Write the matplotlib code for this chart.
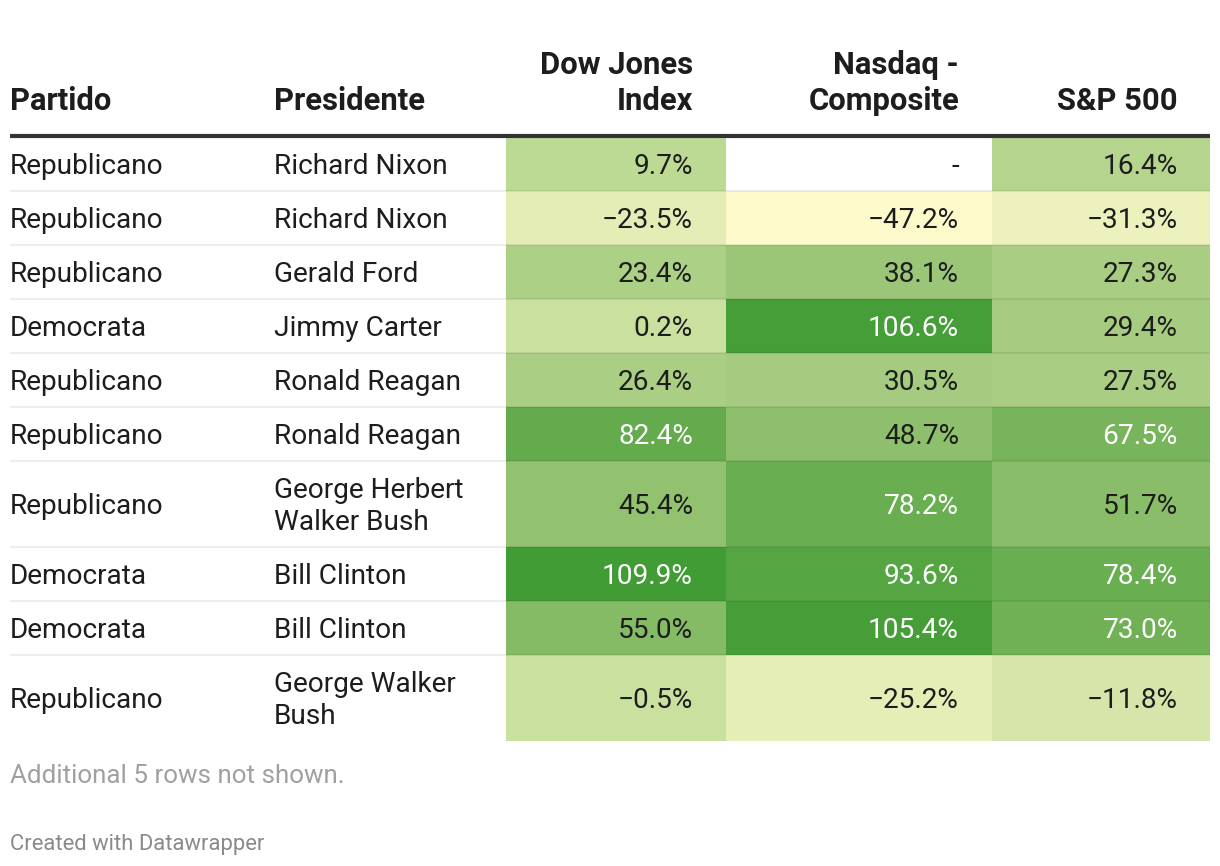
import numpy as np
import matplotlib.pyplot as plt
from matplotlib.colors import LinearSegmentedColormap
from matplotlib.patches import Rectangle

plt.rcParams['font.family'] = ['Roboto', 'DejaVu Sans']

# datos de la tabla
partido = ['Republicano', 'Republicano', 'Republicano', 'Democrata', 'Republicano',
           'Republicano', 'Republicano', 'Democrata', 'Democrata', 'Republicano']
presidente = ['Richard Nixon', 'Richard Nixon', 'Gerald Ford', 'Jimmy Carter', 'Ronald Reagan',
              'Ronald Reagan', 'George Herbert\nWalker Bush', 'Bill Clinton', 'Bill Clinton',
              'George Walker\nBush']
dow = [9.7, -23.5, 23.4, 0.2, 26.4, 82.4, 45.4, 109.9, 55.0, -0.5]
nasdaq = [np.nan, -47.2, 38.1, 106.6, 30.5, 48.7, 78.2, 93.6, 105.4, -25.2]
sp500 = [16.4, -31.3, 27.3, 29.4, 27.5, 67.5, 51.7, 78.4, 73.0, -11.8]
headers = ['Partido', 'Presidente', 'Dow Jones\nIndex', 'Nasdaq -\nComposite', 'S&P 500']

W, H = 1220, 866
fig = plt.figure(figsize=(W / 100, H / 100), dpi=100)
ax = fig.add_axes([0, 0, 1, 1])
ax.set_xlim(0, W)
ax.set_ylim(H, 0)
ax.axis('off')

px = 0.72  # px -> pt a 100 dpi

vmin, vmax = -47.2, 109.9
cmap = LinearSegmentedColormap.from_list('dw', [
    (0.0, '#fdf9cb'),
    ((0 - vmin) / (vmax - vmin), '#c9e09f'),
    ((50 - vmin) / (vmax - vmin), '#8cbe6b'),
    (1.0, '#429c35'),
])

# columnas
col_left = [506, 726, 992]
col_right = [726, 992, 1210]
text_right = [693, 959, 1178]
head_x = [10, 274] + text_right
head_ha = ['left', 'left', 'right', 'right', 'right']

# filas
row_h = [86 if '\n' in p else 54 for p in presidente]
row_h[0] += 1
top = 136
edges = [top]
for h in row_h:
    edges.append(edges[-1] + h)


def multiline(x, yc, s, size, color, ha='left', gap=32, weight='normal'):
    lines = s.split('\n')
    n = len(lines)
    for k, ln in enumerate(lines):
        ax.text(x, yc + gap * (k - (n - 1) / 2), ln, fontsize=size, color=color, ha=ha,
                va='center_baseline', fontweight=weight, zorder=3)


# cabecera
hdr_size = 31 * px
for x, ha, h in zip(head_x, head_ha, headers):
    lines = h.split('\n')
    for k, ln in enumerate(lines[::-1]):
        ax.text(x, 110 - 36 * k, ln, fontsize=hdr_size, fontweight='bold', color='#1d1d1d',
                ha=ha, va='baseline')

body_size = 28 * px
for i in range(len(partido)):
    y0, y1 = edges[i], edges[i + 1]
    yc = (y0 + y1) / 2
    for j, vals in enumerate([dow, nasdaq, sp500]):
        v = vals[i]
        if np.isnan(v):
            fc = 'white'
            label = '-'
            tc = '#1d1d1d'
        else:
            fc = cmap((v - vmin) / (vmax - vmin))
            label = f'{v:.1f}%'.replace('-', '\u2212')
            tc = 'white' if v > 60 else '#1d1d1d'
        ax.add_patch(Rectangle((col_left[j], y0), col_right[j] - col_left[j], y1 - y0,
                               facecolor=fc, edgecolor='none', zorder=1))
        ax.text(text_right[j], yc, label, fontsize=body_size, color=tc,
                ha='right', va='center_baseline', zorder=3)
    multiline(10, yc, partido[i], body_size, '#1d1d1d')
    multiline(274, yc, presidente[i], body_size, '#1d1d1d')
    if i > 0:
        ax.plot([10, 1210], [y0, y0], color='black', alpha=0.07, lw=1.5, zorder=2,
                solid_capstyle='butt')

ax.plot([10, 1210], [top, top], color='#333333', lw=3, zorder=4, solid_capstyle='butt')

ax.text(10, 783, 'Additional 5 rows not shown.', fontsize=26 * px, color='#a0a0a0', va='baseline')
ax.text(10, 850, 'Created with Datawrapper', fontsize=22 * px, color='#8a8a8a', va='baseline')

fig.savefig('out.png', dpi=100, facecolor='white')
